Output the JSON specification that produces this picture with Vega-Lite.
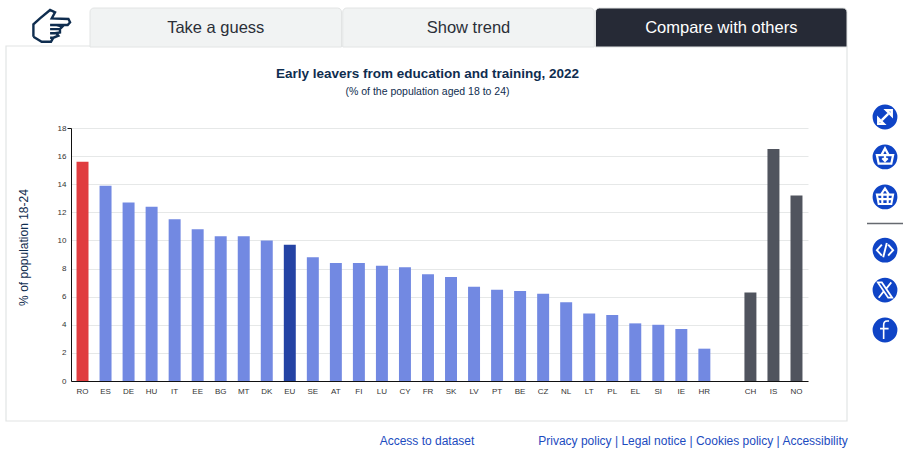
{"$schema":"https://vega.github.io/schema/vega-lite/v6.json","autosize":"none","width":737,"height":253,"padding":{"left":71,"top":128,"right":115,"bottom":82},"background":"#ffffff","config":{"font":"Liberation Sans","view":{"stroke":null}},"title":{"text":"Early leavers from education and training, 2022","subtitle":"(% of the population aged 18 to 24)","anchor":"middle","dx":-12,"dy":92,"offset":0,"fontSize":13.5,"fontWeight":"bold","color":"#0f2d4f","subtitleFontSize":10.5,"subtitleColor":"#0f2d4f","subtitlePadding":6},"datasets":{"countries":[{"geo":"RO","value":15.6,"group":"Selected"},{"geo":"ES","value":13.9,"group":"Member state"},{"geo":"DE","value":12.7,"group":"Member state"},{"geo":"HU","value":12.4,"group":"Member state"},{"geo":"IT","value":11.5,"group":"Member state"},{"geo":"EE","value":10.8,"group":"Member state"},{"geo":"BG","value":10.3,"group":"Member state"},{"geo":"MT","value":10.3,"group":"Member state"},{"geo":"DK","value":10.0,"group":"Member state"},{"geo":"EU","value":9.7,"group":"EU"},{"geo":"SE","value":8.8,"group":"Member state"},{"geo":"AT","value":8.4,"group":"Member state"},{"geo":"FI","value":8.4,"group":"Member state"},{"geo":"LU","value":8.2,"group":"Member state"},{"geo":"CY","value":8.1,"group":"Member state"},{"geo":"FR","value":7.6,"group":"Member state"},{"geo":"SK","value":7.4,"group":"Member state"},{"geo":"LV","value":6.7,"group":"Member state"},{"geo":"PT","value":6.5,"group":"Member state"},{"geo":"BE","value":6.4,"group":"Member state"},{"geo":"CZ","value":6.2,"group":"Member state"},{"geo":"NL","value":5.6,"group":"Member state"},{"geo":"LT","value":4.8,"group":"Member state"},{"geo":"PL","value":4.7,"group":"Member state"},{"geo":"EL","value":4.1,"group":"Member state"},{"geo":"SI","value":4.0,"group":"Member state"},{"geo":"IE","value":3.7,"group":"Member state"},{"geo":"HR","value":2.3,"group":"Member state"},{"geo":"CH","value":6.3,"group":"Non-EU"},{"geo":"IS","value":16.5,"group":"Non-EU"},{"geo":"NO","value":13.2,"group":"Non-EU"}],"tabs":[{"tab":"Take a guess","row":"tabs"},{"tab":"Show trend","row":"tabs"},{"tab":"Compare with others","row":"tabs"}],"footer":[{"link":"Access to dataset","row":"footer"},{"link":"Privacy policy | Legal notice | Cookies policy | Accessibility","row":"footer"}],"tools":[{"icon":"expand","rail":"tools"},{"icon":"download","rail":"tools"},{"icon":"basket","rail":"tools"},{"icon":"divider","rail":"tools"},{"icon":"embed","rail":"tools"},{"icon":"x","rail":"tools"},{"icon":"facebook","rail":"tools"}]},"resolve":{"scale":{"x":"independent","y":"independent","color":"independent","shape":"independent","strokeWidth":"independent"}},"layer":[{"data":{"values":[{"part":"panel"}]},"mark":{"type":"bar","fillOpacity":0,"stroke":"#e2e4e4","strokeWidth":1.2},"encoding":{"x":{"field":"part","type":"nominal","axis":null,"scale":{"range":[-65,776],"paddingInner":0,"paddingOuter":0}},"y":{"field":"part","type":"nominal","axis":null,"scale":{"range":[-82,293],"paddingInner":0,"paddingOuter":0}}}},{"data":{"name":"countries"},"mark":{"type":"bar"},"encoding":{"x":{"field":"geo","type":"nominal","sort":null,"title":null,"scale":{"domain":["RO","ES","DE","HU","IT","EE","BG","MT","DK","EU","SE","AT","FI","LU","CY","FR","SK","LV","PT","BE","CZ","NL","LT","PL","EL","SI","IE","HR"," ","CH","IS","NO"],"paddingInner":0.48,"paddingOuter":0.24},"axis":{"labelAngle":0,"labelFontSize":8,"labelColor":"#333333","labelPadding":6,"ticks":false,"domainColor":"#111111","domainWidth":1,"grid":false}},"y":{"field":"value","type":"quantitative","title":"% of population 18-24","scale":{"domain":[0,18],"nice":false},"axis":{"values":[0,2,4,6,8,10,12,14,16,18],"labelFontSize":8,"labelColor":"#333333","labelPadding":1,"ticks":true,"tickSize":4,"tickColor":{"condition":{"test":"datum.value === 18","value":"#111111"},"value":"transparent"},"domainColor":"#111111","domainWidth":1,"grid":true,"gridColor":"#e6e8e8","gridWidth":1,"titleFontSize":12,"titleFontWeight":"normal","titleColor":"#0f2d4f","titleY":119,"titlePadding":27}},"color":{"field":"group","type":"nominal","legend":null,"scale":{"domain":["Selected","Member state","EU","Non-EU"],"range":["#e03c3f","#7289e2","#2443a4","#50545e"]}}}},{"data":{"name":"tabs"},"encoding":{"x":{"field":"tab","type":"nominal","sort":null,"axis":null,"scale":{"domain":["Take a guess","Show trend","Compare with others"],"range":[19,776],"paddingInner":0.005,"paddingOuter":0}},"y":{"field":"row","type":"nominal","axis":null,"scale":{"range":[-120,-81],"paddingInner":0,"paddingOuter":0}}},"layer":[{"mark":{"type":"bar","stroke":"#e2e4e4","cornerRadiusTopLeft":4,"cornerRadiusTopRight":4},"encoding":{"fill":{"field":"tab","type":"nominal","legend":null,"scale":{"domain":["Take a guess","Show trend","Compare with others"],"range":["#f1f3f3","#f1f3f3","#262a36"]}}}},{"mark":{"type":"text","fontSize":16.5},"encoding":{"text":{"field":"tab"},"color":{"field":"tab","type":"nominal","legend":null,"scale":{"domain":["Take a guess","Show trend","Compare with others"],"range":["#2b2f38","#2b2f38","#ffffff"]}}}}]},{"data":{"name":"footer"},"mark":{"type":"text","fontSize":12,"color":"#1c4bc0"},"encoding":{"text":{"field":"link"},"x":{"field":"link","type":"nominal","sort":null,"axis":null,"scale":{"type":"point","padding":0,"range":[356,622]}},"y":{"field":"row","type":"nominal","axis":null,"scale":{"type":"point","padding":0,"range":[303,323]}}}},{"data":{"name":"tools"},"encoding":{"x":{"field":"rail","type":"nominal","axis":null,"scale":{"type":"point","padding":0,"range":[804,824]}},"y":{"field":"icon","type":"nominal","axis":null,"scale":{"type":"point","padding":0,"range":[-11,202],"domain":["expand","gap1","gap2","download","gap3","gap4","basket","gap5","divider","gap6","embed","gap7","gap8","x","gap9","gap10","facebook"]}}},"layer":[{"transform":[{"filter":"datum.icon !== 'divider'"}],"mark":{"type":"point","filled":true,"opacity":1,"size":616,"color":"#0f44c6"}},{"transform":[{"filter":"datum.icon === 'divider'"}],"mark":{"type":"tick","orient":"horizontal","size":36,"thickness":1.5,"color":"#666a70","opacity":1}},{"transform":[{"filter":"datum.icon !== 'divider'"}],"mark":{"type":"point","filled":false,"opacity":1,"size":324,"stroke":"#ffffff"},"encoding":{"shape":{"field":"icon","type":"nominal","legend":null,"scale":{"domain":["expand","download","basket","embed","x","facebook"],"range":["M-.35 .35L.35 -.35M.15 -.75H.75V-.15ZM-.15 .75H-.75V.15Z","M-.9 -.2H.9L.7 .75H-.7ZM-.4 -.2L0 -.95L.4 -.2M0 -.3V.45M-.3 .15L0 .45L.3 .15","M-.9 -.25H.9L.7 .8H-.7ZM-.45 -.25L0 -.95L.45 -.25M-.8 .25H.8M-.3 -.25V.8M.3 -.25V.8","M-.35 -.6L-.9 0L-.35 .6M.35 -.6L.9 0L.35 .6M.2 -.8L-.2 .8","M-.8 -.85H-.35L.8 .85H.35ZM.7 -.85L.1 -.1M-.15 .15L-.7 .85","M.45 -1H.25Q-.15 -1 -.15 -.55V1M-.55 -.15H.4"]}},"strokeWidth":{"field":"icon","type":"nominal","legend":null,"scale":{"domain":["expand","download","basket","embed","x","facebook"],"range":[2.4,1.6,1.4,1.6,1.1,3.6]}}}}]},{"data":{"values":[{"part":"pointing hand"}]},"mark":{"type":"point","filled":false,"opacity":1,"size":1344,"stroke":"#0f2d4f","strokeWidth":2.4,"shape":"M-.96 .55V-.13L-.6 -.45L-.05 -.91L.22 -.78L.04 -.45L.95 -.42L1.04 -.24L.91 -.09H-.05M.31 -.09L.62 0L.49 .13H-.05M.49 .13V.31L.22 .36H-.05M.3 .36L.4 .49L.13 .6H-.05M.13 .6L0 .82H-.51L-.96 .55"},"encoding":{"x":{"field":"part","type":"nominal","axis":null,"scale":{"type":"point","padding":0,"range":[-30,-10]}},"y":{"field":"part","type":"nominal","axis":null,"scale":{"type":"point","padding":0,"range":[-111,-91.6]}}}}]}
